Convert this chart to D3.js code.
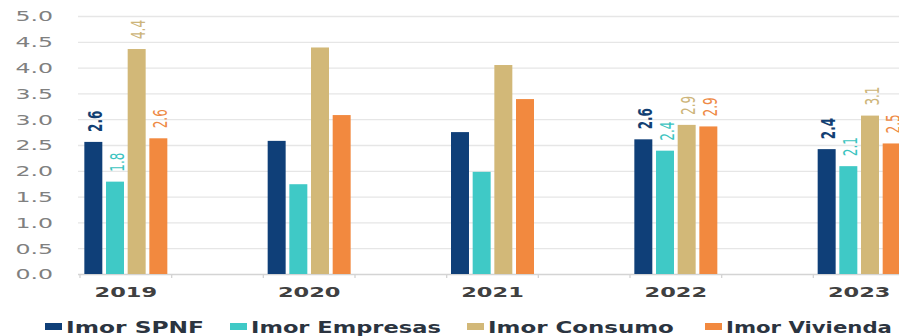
<!DOCTYPE html>
<html>
<head>
<meta charset="utf-8">
<script src="https://cdn.jsdelivr.net/npm/d3@7"></script>
<style>
  body { margin: 0; background: #fff; }
  svg { display: block; overflow: hidden; }
  text { font-family: "DejaVu Sans", sans-serif; }
</style>
</head>
<body>
<svg id="chart" width="899" height="336"></svg>
<script>
"use strict";

// data
const years = ["2019", "2020", "2021", "2022", "2023"];
const series = ["Imor SPNF", "Imor Empresas", "Imor Consumo", "Imor Vivienda"];
const imorSPNF = [2.56, 2.58, 2.75, 2.61, 2.42];
const imorEmpresas = [1.79, 1.74, 1.98, 2.39, 2.09];
const imorConsumo = [4.36, 4.39, 4.05, 2.89, 3.07];
const imorVivienda = [2.63, 3.08, 3.39, 2.86, 2.53];
const labelledYears = ["2019", "2022", "2023"];
const yTicks = [0, 0.5, 1, 1.5, 2, 2.5, 3, 3.5, 4, 4.5, 5];

const colors = ["#0f3f78", "#3fc9c6", "#d2b878", "#f2893f"];
const labelColors = ["#123f73", "#3cc4c0", "#cdb57a", "#ee8a45"];
const values = [imorSPNF, imorEmpresas, imorConsumo, imorVivienda];

const rows = [];
years.forEach((yr, i) => {
	series.forEach((s, j) => {
		rows.push({ year: yr, series: s, idx: j, value: values[j][i] });
	});
});

const plotLeft = 80;
const plotRight = 905;
const plotTop = 16;
const plotBottom = 274;
const stretch = 1.55; // the reference text is drawn wide

const svg = d3.select("#chart");

const x = d3.scaleBand().domain(years).range([plotLeft, plotRight]).paddingInner(0.5).paddingOuter(0);
const xIn = d3.scaleBand().domain(series).range([0, x.bandwidth()]).paddingInner(0.17).paddingOuter(0.2);
const y = d3.scaleLinear().domain([0, 5]).range([plotBottom, plotTop]);

// gridlines + y labels
const yAxis = svg
	.append("g")
	.attr("transform", `translate(78, 0)`)
	.call(
		d3.axisLeft(y)
			.tickValues(yTicks)
			.tickSize(-(899 - 78))
			.tickPadding(0)
			.tickFormat(d3.format(".1f"))
	);
yAxis.select(".domain").remove();
yAxis.selectAll(".tick line").attr("stroke", (d) => (d === 0 ? "#d4d4d4" : "#e6e6e6")).attr("stroke-width", 1.3);
yAxis
	.selectAll(".tick text")
	.attr("x", -25 / 1.75)
	.attr("dy", "0.36em")
	.attr("transform", "scale(1.75,1)")
	.attr("fill", "#808080")
	.style("font-size", "13.5px");

// x tick marks at slot edges
const edges = [];
years.forEach((yr) => {
	edges.push(x(yr));
	edges.push(x(yr) + x.bandwidth());
});
svg
	.append("g")
	.selectAll("line")
	.data(edges)
	.join("line")
	.attr("x1", (d) => d)
	.attr("x2", (d) => d)
	.attr("y1", plotBottom)
	.attr("y2", plotBottom + 4)
	.attr("stroke", "#d4d4d4")
	.attr("stroke-width", 1.3);

// year labels
svg
	.append("g")
	.selectAll("text")
	.data(years)
	.join("text")
	.attr("transform", (d) => `translate(${x(d) + x.bandwidth() / 2}, 297) scale(${stretch},1)`)
	.attr("text-anchor", "middle")
	.attr("fill", "#404040")
	.style("font-size", "14.5px")
	.style("font-weight", "bold")
	.text((d) => d);

// bars
svg
	.append("g")
	.selectAll("rect")
	.data(rows)
	.join("rect")
	.attr("x", (d) => x(d.year) + xIn(d.series))
	.attr("y", (d) => y(d.value))
	.attr("width", xIn.bandwidth())
	.attr("height", (d) => plotBottom - y(d.value))
	.attr("fill", (d) => colors[d.idx]);

// rotated value labels
svg
	.append("g")
	.selectAll("text")
	.data(rows.filter((d) => labelledYears.includes(d.year)))
	.join("text")
	.attr(
		"transform",
		(d) => `translate(${x(d.year) + xIn(d.series) + xIn.bandwidth() / 2 + 2}, ${y(d.value) - 10}) rotate(-90) scale(1,${stretch})`
	)
	.attr("dy", "0.36em")
	.attr("fill", (d) => labelColors[d.idx])
	.style("font-size", "12px")
	.style("font-weight", (d) => (d.idx === 0 ? "bold" : "normal"))
	.text((d) => d3.format(".1f")(d.value));

// legend
const legendX = [45, 230, 467, 705];
const legendTextW = [138, 190, 186, 166];
const legend = svg
	.append("g")
	.selectAll("g")
	.data(series)
	.join("g")
	.attr("transform", (d, i) => `translate(${legendX[i]}, 323)`);
legend
	.append("rect")
	.attr("width", 17)
	.attr("height", 7)
	.attr("fill", (d, i) => colors[i]);
legend
	.append("text")
	.attr("fill", "#2b3440")
	.style("font-size", "15px")
	.style("font-weight", "bold")
	.text((d) => d)
	.attr("transform", function (d, i) {
		const k = legendTextW[i] / this.getComputedTextLength();
		return `translate(21, 9.5) scale(${k},1)`;
	});
</script>
</body>
</html>
